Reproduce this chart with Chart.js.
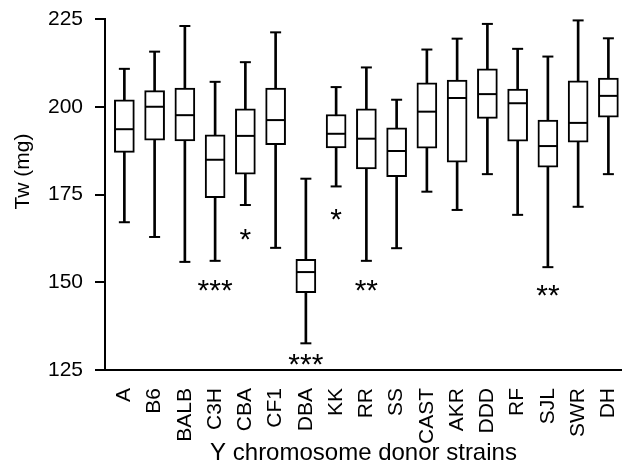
<!DOCTYPE html>
<html>
<head>
<meta charset="utf-8">
<script src="https://cdn.jsdelivr.net/npm/chart.js@4.4.0/dist/chart.umd.min.js"></script>
<style>
  body { margin: 0; background: #fff; }
</style>
</head>
<body>
<canvas id="chart" width="622" height="465"></canvas>
<script>
const categories = ['A', 'B6', 'BALB', 'C3H', 'CBA', 'CF1', 'DBA', 'KK', 'RR', 'SS', 'CAST', 'AKR', 'DDD', 'RF', 'SJL', 'SWR', 'DH'];
const whiskerLow = [167.1, 162.9, 155.8, 156.1, 172.0, 159.8, 132.6, 177.3, 156.1, 159.7, 175.8, 170.6, 180.8, 169.2, 154.3, 171.5, 180.8];
const q1 = [187.0, 190.5, 190.3, 174.1, 180.8, 189.2, 147.0, 188.3, 182.3, 180.1, 188.2, 184.2, 196.7, 190.2, 182.8, 189.9, 197.0];
const median = [193.6, 200.0, 197.6, 184.9, 191.7, 196.2, 152.9, 192.3, 190.9, 187.4, 198.6, 202.5, 203.6, 201.0, 188.8, 195.4, 203.1];
const q3 = [202.0, 204.6, 205.3, 192.0, 199.4, 205.3, 156.5, 197.8, 199.4, 194.0, 206.8, 207.6, 210.8, 205.0, 196.2, 207.4, 208.2];
const whiskerHigh = [210.8, 215.7, 223.0, 207.1, 212.7, 221.2, 179.5, 205.6, 211.2, 202.0, 216.3, 219.4, 223.6, 216.5, 214.3, 224.6, 219.5];
// significance marks and where they sit (mg)
const sigLabels = ['', '', '', '***', '*', '', '***', '*', '**', '', '', '', '', '', '**', '', ''];
const sigY = [null, null, null, 149.9, 164.4, null, 128.7, 170.0, 149.7, null, null, null, null, null, 148.3, null, null];
const yTicks = [125, 150, 175, 200, 225];

const FONT = "'Liberation Sans', Arial, sans-serif";

const asterisks = {
    id: 'asterisks',
    afterDatasetsDraw(chart) {
        const ctx = chart.ctx;
        const x = chart.scales.x, y = chart.scales.y;
        ctx.save();
        ctx.fillStyle = '#000';
        ctx.font = '30px ' + FONT;
        ctx.textAlign = 'center';
        ctx.textBaseline = 'alphabetic';
        sigLabels.forEach((s, i) => {
            if (!s) return;
            ctx.fillText(s, x.getPixelForValue(i), y.getPixelForValue(sigY[i]) + 17);
        });
        ctx.restore();
    }
};

// y title sits a bit above the axis middle in the original
const yTitle = {
    id: 'yTitle',
    afterDraw(chart) {
        const ctx = chart.ctx;
        const a = chart.chartArea;
        ctx.save();
        ctx.translate(23, (a.top + a.bottom) / 2 - 23);
        ctx.rotate(-Math.PI / 2);
        ctx.fillStyle = '#000';
        ctx.font = '21px ' + FONT;
        ctx.textAlign = 'center';
        ctx.textBaseline = 'middle';
        ctx.fillText('Tw (mg)', 0, 0);
        ctx.restore();
    }
};

const data = {
    datasets: [
        {
            type: 'scatter',
            data: median.map((v, i) => ({x: i, y: v})),
            pointStyle: 'line',
            pointRadius: 9.5,
            borderColor: '#000',
            borderWidth: 2,
            order: 0
        },
        {
            type: 'scatter',
            data: whiskerLow.map((v, i) => ({x: i, y: v})).concat(whiskerHigh.map((v, i) => ({x: i, y: v}))),
            pointStyle: 'line',
            pointRadius: 5.5,
            borderColor: '#000',
            borderWidth: 2,
            order: 1
        },
        {
            type: 'bar',
            data: q1.map((v, i) => ({x: i, y: [v, q3[i]]})),
            backgroundColor: '#fff',
            borderColor: '#000',
            borderWidth: 2,
            borderSkipped: false,
            barThickness: 20,
            grouped: false,
            order: 2
        },
        {
            type: 'bar',
            data: whiskerLow.map((v, i) => ({x: i, y: [v, whiskerHigh[i]]})),
            backgroundColor: '#000',
            borderWidth: 0,
            barThickness: 2,
            grouped: false,
            order: 3
        }
    ]
};

const config = {
    type: 'bar',
    data,
    options: {
        responsive: false,
        animation: false,
        events: [],
        layout: {
            autoPadding: false,
            padding: {top: 19, right: 0, bottom: 0, left: 0}
        },
        plugins: {
            legend: {display: false},
            tooltip: {enabled: false}
        },
        scales: {
            x: {
                type: 'linear',
                offset: false,
                min: -0.64,
                max: 16.45,
                afterBuildTicks: (scale) => {
                    scale.ticks = categories.map((c, i) => ({value: i}));
                },
                afterFit: (scale) => {
                    scale.height = 95;
                    scale.paddingRight = 0;
                    scale.paddingLeft = 0;
                },
                grid: {display: false, offset: false},
                border: {display: true, color: '#000', width: 2},
                ticks: {
                    autoSkip: false,
                    maxRotation: 90,
                    minRotation: 90,
                    padding: 10,
                    color: '#000',
                    font: {family: FONT, size: 21},
                    callback: (v) => categories[v]
                },
                title: {
                    display: true,
                    text: 'Y chromosome donor strains',
                    color: '#000',
                    font: {family: FONT, size: 24, lineHeight: 1},
                    padding: {top: 0, bottom: 0}
                }
            },
            y: {
                min: 125,
                max: 225,
                afterBuildTicks: (scale) => {
                    scale.ticks = yTicks.map(v => ({value: v}));
                },
                afterFit: (scale) => {
                    scale.width = 105;
                    scale.paddingTop = 0;
                    scale.paddingBottom = 0;
                },
                grid: {
                    display: true,
                    drawOnChartArea: false,
                    drawTicks: true,
                    tickLength: 10,
                    color: '#000',
                    lineWidth: 2
                },
                border: {display: true, color: '#000', width: 2},
                ticks: {
                    padding: 12,
                    color: '#000',
                    font: {family: FONT, size: 21}
                }
            }
        }
    },
    plugins: [asterisks, yTitle]
};

new Chart(document.getElementById('chart'), config);
</script>
</body>
</html>
